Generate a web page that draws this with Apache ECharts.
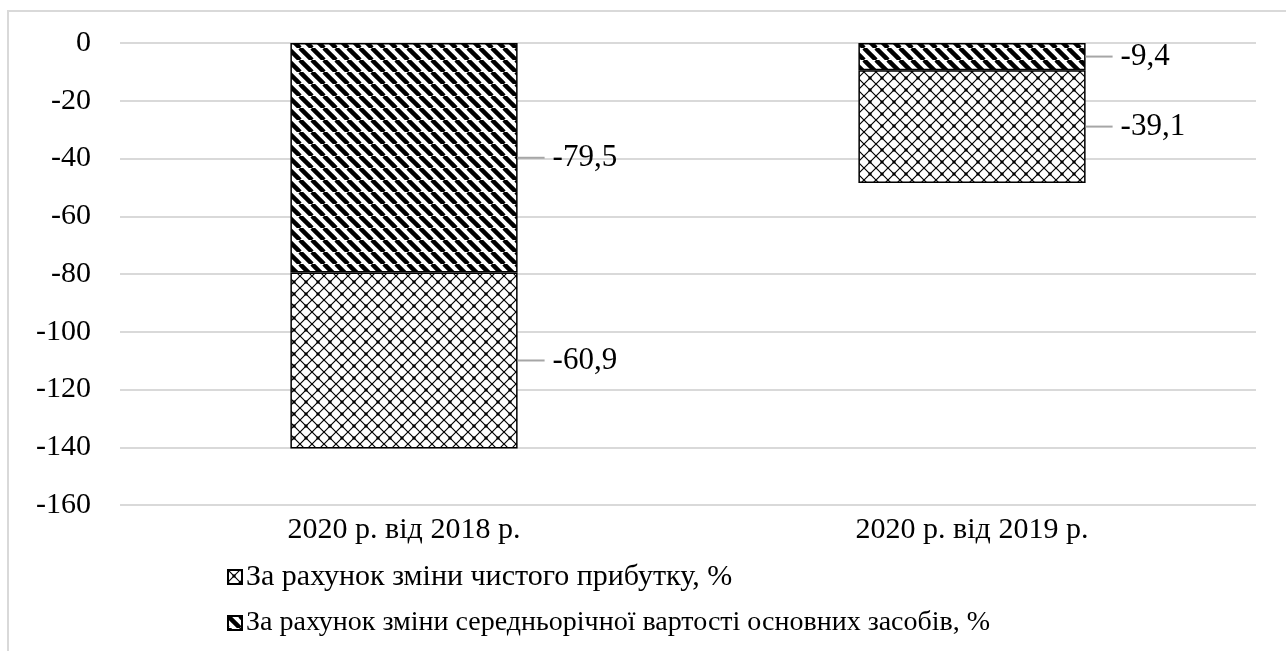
<!DOCTYPE html>
<html>
<head>
<meta charset="utf-8">
<script src="https://cdn.jsdelivr.net/npm/echarts@6/dist/echarts.min.js"></script>
<style>
  html, body { margin: 0; padding: 0; background: #fff; }
  #main { width: 1286px; height: 651px; }
</style>
</head>
<body>
<div id="main"></div>
<script>
var categories = ['2020 р. від 2018 р.', '2020 р. від 2019 р.'];
var nameProfit = 'За рахунок зміни чистого прибутку, %';
var nameAssets = 'За рахунок зміни середньорічної вартості основних засобів, %';
var assetsValues = [-79.5, -9.4];
var profitValues = [-60.9, -39.1];
var yTicks = [0, -20, -40, -60, -80, -100, -120, -140, -160];

// штриховка "\\\"
function stripes() {
    var c = document.createElement('canvas');
    c.width = 12; c.height = 12;
    var g = c.getContext('2d');
    g.fillStyle = '#fff';
    g.fillRect(0, 0, 12, 12);
    g.strokeStyle = '#000';
    g.lineWidth = 4.5;
    [-12, 0, 12].forEach(function (k) {
        g.beginPath();
        g.moveTo(k, 0);
        g.lineTo(k + 12, 12);
        g.stroke();
    });
    return c;
}

// сітка з ромбів
function crosshatch() {
    var c = document.createElement('canvas');
    c.width = 12; c.height = 12;
    var g = c.getContext('2d');
    g.fillStyle = '#fff';
    g.fillRect(0, 0, 12, 12);
    g.strokeStyle = '#000';
    g.lineWidth = 1.2;
    [-12, 0, 12].forEach(function (k) {
        g.beginPath();
        g.moveTo(k, 0);
        g.lineTo(k + 12, 12);
        g.moveTo(k, 12);
        g.lineTo(k + 12, 0);
        g.stroke();
    });
    g.fillStyle = '#000';
    g.fillRect(4.5, 4.5, 3, 3);
    return c;
}

var font = 'Liberation Serif';
var fs = 30;

var barLabel = {
    show: true,
    position: 'right',
    distance: 0,
    formatter: function (p) {
        return '{l|}{v|' + String(p.value).replace('.', ',') + '}';
    },
    rich: {
        l: { width: 27, height: 2, backgroundColor: '#a6a6a6' },
        v: { fontFamily: font, fontSize: 31, color: '#000', padding: [0, 0, 0, 8] }
    }
};

var myChart = echarts.init(document.getElementById('main'));
var option = {
    backgroundColor: '#fff',
    animation: false,
    graphic: [{
        type: 'rect',
        shape: { x: 8, y: 11, width: 1300, height: 660 },
        style: { fill: 'none', stroke: '#d9d9d9', lineWidth: 2 },
        silent: true
    }],
    grid: { left: 120, right: 30, top: 43, bottom: 146 },
    legend: {
        orient: 'vertical',
        left: 222,
        top: 557,
        icon: 'rect',
        itemWidth: 14,
        itemHeight: 14,
        itemGap: 17,
        data: [nameProfit, nameAssets],
        formatter: function (name) {
            return name === nameProfit ? '{a|' + name + '}' : '{b|' + name + '}';
        },
        textStyle: {
            color: '#000',
            padding: [0, 0, 0, -1],
            rich: {
                a: { fontFamily: font, fontSize: 30, color: '#000' },
                b: { fontFamily: font, fontSize: 28, color: '#000' }
            }
        }
    },
    xAxis: {
        type: 'category',
        data: categories,
        position: 'bottom',
        axisLine: { show: false },
        axisTick: { show: false },
        axisLabel: { fontFamily: font, fontSize: fs, color: '#000', margin: 10 }
    },
    yAxis: {
        type: 'value',
        min: -160,
        max: 0,
        interval: 20,
        axisLine: { show: false },
        axisTick: { show: false },
        axisLabel: { fontFamily: font, fontSize: fs, color: '#000', margin: 29 },
        splitLine: { lineStyle: { color: '#d9d9d9', width: 2 } }
    },
    series: [{
        name: nameAssets,
        type: 'bar',
        stack: 'total',
        barWidth: '40%',
        data: assetsValues,
        itemStyle: { color: { image: stripes(), repeat: 'repeat' }, borderColor: '#000', borderWidth: 1.5 },
        label: barLabel
    }, {
        name: nameProfit,
        type: 'bar',
        stack: 'total',
        barWidth: '40%',
        data: profitValues,
        itemStyle: { color: { image: crosshatch(), repeat: 'repeat' }, borderColor: '#000', borderWidth: 1.5 },
        label: barLabel
    }]
};
myChart.setOption(option);
</script>
</body>
</html>
